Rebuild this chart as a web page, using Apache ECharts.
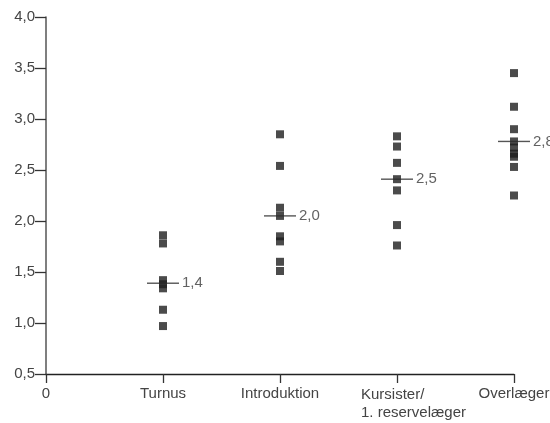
<!DOCTYPE html>
<html>
<head>
<meta charset="utf-8">
<script src="https://cdn.jsdelivr.net/npm/echarts@6/dist/echarts.min.js"></script>
<style>
  html, body { margin: 0; padding: 0; background: #fff; }
  #main { width: 550px; height: 423px; }
</style>
</head>
<body>
<div id="main"></div>
<script>
var categories = ['0', 'Turnus', 'Introduktion', 'Kursister/\n1. reservelæger', 'Overlæger'];
var yTicks = [0.5, 1.0, 1.5, 2.0, 2.5, 3.0, 3.5, 4.0];

var turnus = [1.86, 1.78, 1.42, 1.38, 1.34, 1.13, 0.97];
var introduktion = [2.85, 2.54, 2.13, 2.05, 1.85, 1.80, 1.60, 1.51];
var kursister = [2.83, 2.73, 2.57, 2.41, 2.30, 1.96, 1.76];
var overlaeger = [3.45, 3.12, 2.90, 2.78, 2.72, 2.66, 2.63, 2.53, 2.25];

var medians = [1.39, 2.05, 2.41, 2.78];
var medianLabels = ['1,4', '2,0', '2,5', '2,8'];

var groups = [turnus, introduktion, kursister, overlaeger];

var points = [];
groups.forEach(function (g, i) {
    g.forEach(function (v) {
        points.push([i + 1, v]);
    });
});

var medianPoints = medians.map(function (v, i) {
    return { value: [i + 1, v], label: { formatter: medianLabels[i] } };
});

var chart = echarts.init(document.getElementById('main'));

var option = {
    animation: false,
    textStyle: { fontFamily: 'Liberation Sans' },
    grid: { left: 46, right: 36, top: 17, bottom: 49, containLabel: false, outerBoundsMode: 'none' },
    xAxis: {
        type: 'category',
        boundaryGap: false,
        data: categories,
        axisLine: { lineStyle: { color: '#222', width: 1.3 } },
        axisTick: { show: true, interval: 0, length: 9, lineStyle: { color: '#333', width: 1.3 } },
        axisLabel: {
            color: '#444',
            fontSize: 15,
            margin: 12,
            interval: 0,
            formatter: function (v) {
                if (v.indexOf('\n') >= 0) {
                    return v.split('\n').map(function (s) { return '{k|' + s + '}'; }).join('\n');
                }
                return v;
            },
            rich: {
                k: { width: 72, align: 'left', fontSize: 15, color: '#444', lineHeight: 18 }
            }
        },
        splitLine: { show: false }
    },
    yAxis: {
        type: 'value',
        min: 0.5,
        max: 4.0,
        interval: 0.5,
        axisLine: { show: true, lineStyle: { color: '#555', width: 1.5 } },
        axisTick: { show: true, length: 11, lineStyle: { color: '#333', width: 1.3 } },
        axisLabel: {
            color: '#444',
            fontSize: 15,
            margin: 11,
            formatter: function (v) { return v.toFixed(1).replace('.', ','); }
        },
        splitLine: { show: false }
    },
    series: [
        {
            type: 'scatter',
            symbol: 'rect',
            symbolSize: 8,
            itemStyle: { color: '#1e1e1e' },
            data: points,
            z: 2
        },
        {
            type: 'scatter',
            symbol: 'rect',
            symbolSize: [32, 1.4],
            itemStyle: { color: '#2a2a2a' },
            label: {
                show: true,
                position: 'right',
                distance: 3,
                color: '#3a3a3a',
                fontSize: 15
            },
            data: medianPoints,
            z: 3
        }
    ]
};

chart.setOption(option);
</script>
</body>
</html>
